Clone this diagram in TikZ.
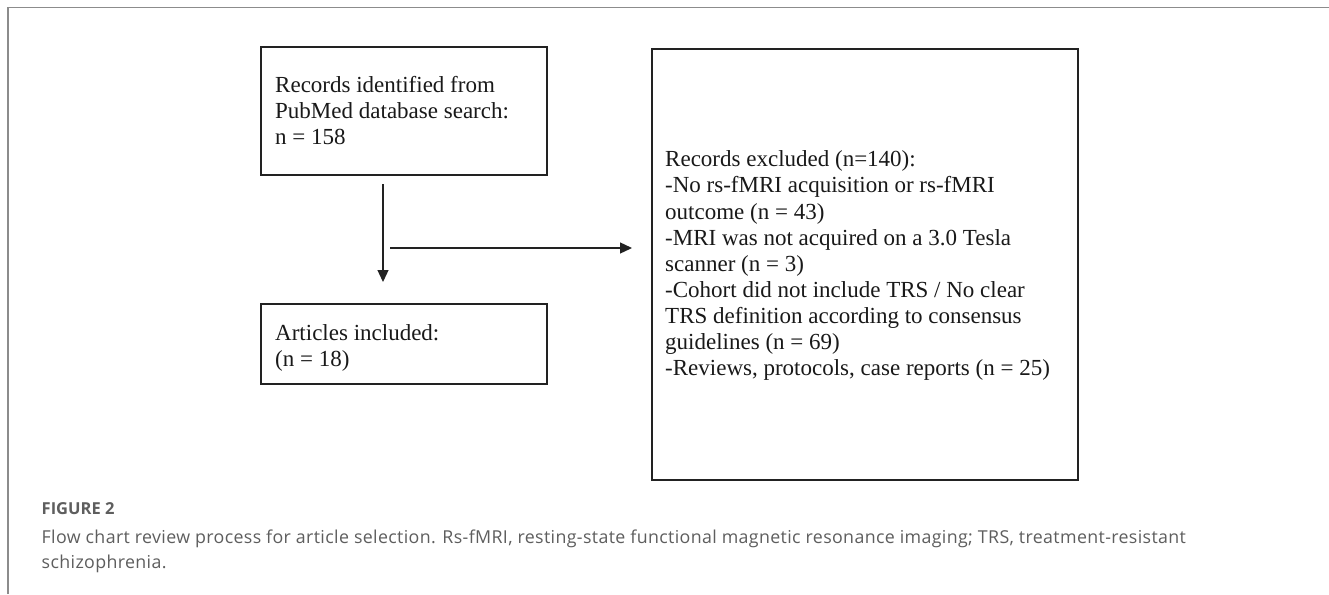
\documentclass[tikz,border=0pt]{standalone}
\usepackage{fontspec}
\setmainfont{Liberation Serif}
\newfontfamily\capfont[LetterSpace=2]{Open Sans}
\newfontfamily\captitlefont{Open Sans}
\usetikzlibrary{arrows.meta}
\definecolor{framegray}{HTML}{8C8C8C}
\definecolor{capgray}{HTML}{5E5E5E}
\definecolor{boxline}{HTML}{222222}
\tikzset{
  every picture/.style={x=1pt,y=-1pt},
  boxframe/.style={draw=boxline, line width=2pt},
  boxtext/.style={anchor=north west, inner sep=0pt, align=left, text=black!90,
    font=\fontsize{23}{26.1}\selectfont},
  flowarrow/.style={draw=boxline, line width=1.3pt, -{Triangle[length=12pt,width=11pt]}},
  figframe/.style={draw=framegray, line width=1.6pt},
  captitle/.style={anchor=base west, inner sep=0pt, text=capgray, font=\captitlefont\bfseries\fontsize{16.5}{19}\selectfont},
  captext/.style={anchor=north west, inner sep=0pt, align=left, text=capgray, font=\capfont\fontsize{17.8}{25}\selectfont}
}
\begin{document}
\begin{tikzpicture}
\useasboundingbox (0,0) rectangle (1329,594);
\fill[white] (0,0) rectangle (1329,594);
% figure frame
\draw[figframe] (8,594) -- (8,7.5) -- (1329,7.5);
% boxes
\draw[boxframe] (260.5,47.5) rectangle (547,174.5);
\draw[boxframe] (260.5,303.5) rectangle (547,384);
\draw[boxframe] (651.5,49.5) rectangle (1078,480);
\node[boxtext] (t1) at (275,76) {Records identified from\\PubMed database search:\\n = 158};
\node[boxtext] (t2) at (275,324.3) {Articles included:\\(n = 18)};
\node[boxtext] (t3) at (665,150.7) {Records excluded (n=140):\\-No rs-fMRI acquisition or rs-fMRI\\outcome (n = 43)\\-MRI was not acquired on a 3.0 Tesla\\scanner (n = 3)\\-Cohort did not include TRS / No clear\\TRS definition according to consensus\\guidelines (n = 69)\\-Reviews, protocols, case reports (n = 25)};
% arrows
\coordinate (v1) at (383,184);
\coordinate (v2) at (383,282);
\coordinate (h1) at (390,248);
\coordinate (h2) at (632,248);
\draw[flowarrow] (v1) -- (v2);
\draw[flowarrow] (h1) -- (h2);
% caption
\node[captitle] (cap1) at (41.5,514.5) {FIGURE 2};
\node[captext] (cap2) at (41.5,529.5) {Flow chart review process for article selection. Rs-fMRI, resting-state functional magnetic resonance imaging; TRS, treatment-resistant\\schizophrenia.};
\end{tikzpicture}
\end{document}
